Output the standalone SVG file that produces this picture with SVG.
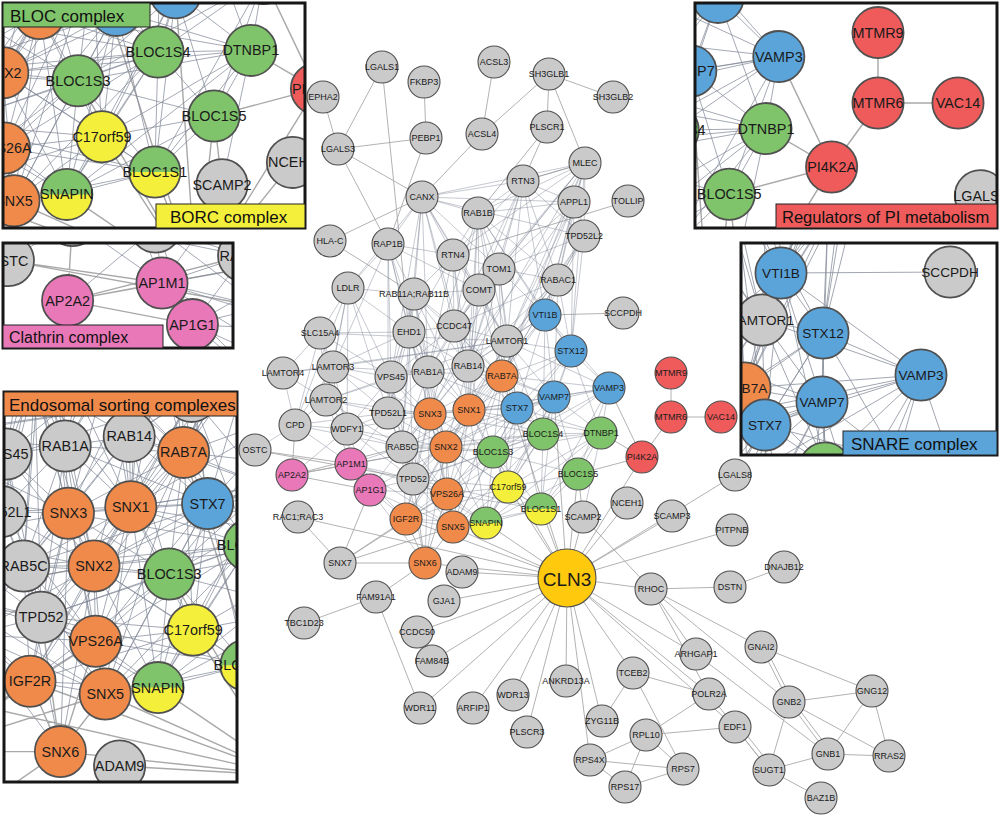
<svg xmlns="http://www.w3.org/2000/svg" xmlns:xlink="http://www.w3.org/1999/xlink" width="1000" height="817" viewBox="0 0 1000 817">
<style>
text{font-family:"Liberation Sans",Arial,sans-serif;font-size:9px;text-anchor:middle;dominant-baseline:central;fill:#1a1a1a}
circle{stroke:#505050;stroke-width:1.1}
.g circle{fill:#cacaca}
.o circle{fill:#f08a4b}
.gr circle{fill:#7fc46a}
.y circle{fill:#f4ef3a}
.b circle{fill:#5ba4da}
.r circle{fill:#ef5b5b}
.p circle{fill:#e878b8}
.h circle{fill:none}
.ep{fill:none;stroke:#a9a9a9;stroke-width:0.9}
.ec{fill:none;stroke:#7f8796;stroke-width:0.6;stroke-opacity:0.75}
.es{fill:none;stroke:#8a909c;stroke-width:1;stroke-opacity:0.8}
.sn circle{stroke-width:1.7}
.sn text{font-size:13.6px}
.frame{fill:none;stroke:#161616;stroke-width:3}
.lab{stroke:#222;stroke-width:1}
.lt{font-size:17px;text-anchor:start;fill:#111}
</style>
<defs>
<clipPath id="cBloc"><rect x="3" y="3" width="302" height="225"/></clipPath>
<clipPath id="cClat"><rect x="3" y="243" width="230" height="105"/></clipPath>
<clipPath id="cEndo"><rect x="4" y="392" width="233" height="390"/></clipPath>
<clipPath id="cPi"><rect x="695" y="3" width="302" height="225"/></clipPath>
<clipPath id="cSnare"><rect x="741" y="243" width="256" height="212"/></clipPath>
</defs>
<rect width="1000" height="817" fill="#fff"/>
<g id="network">
<g id="connectors">
<path class="ep" d="M382 67L338 149M382 67L409 332M323 97L338 149M338 149L426 138M338 149L422 197M338 149L388 244M424 82L426 138M426 138L388 244M494 62L482 134M482 134L422 197M482 134L549 74M549 74L613 97M549 74L547 127M549 74L585 163M547 127L523 181M547 127L478 213M585 163L523 181M628 201L453 255M422 197L330 241M330 241L414 294M545 315L623 313M671 373L671 417M671 417L721 417M671 417L642 457M642 457L609 388M642 457L601 433M642 457L578 474M642 457L567 578M627 503L567 578M583 517L567 578M583 517L578 474M583 517L651 589M672 516L567 578M735 475L567 578M732 530L567 578M651 589L567 578M651 589L730 587M730 587L784 567M651 589L761 647M651 589L789 702M651 589L696 654M651 589L709 694M696 654L828 754M567 578L696 654M567 578L709 694M567 578L735 727M567 578L633 673M567 578L602 721M567 578L590 760M567 578L566 681M567 578L527 732M567 578L513 695M567 578L473 708M567 578L420 708M567 578L432 661M567 578L417 632M567 578L444 601M567 578L462 572M567 578L425 563M567 578L298 517M567 578L406 519M567 578L453 527M567 578L486 523M567 578L541 509M567 578L508 487M567 578L578 474M567 578L502 376M567 578L554 397M567 578L493 452M633 673L602 721M633 673L709 694M633 673L683 769M646 735L709 694M646 735L590 760M646 735L625 787M646 735L683 769M646 735L735 727M590 760L683 769M590 760L625 787M625 787L683 769M735 727L769 770M738 724L772 767M709 694L769 770M761 647L872 691M761 647L789 702M764 645L792 700M789 702L872 691M789 702L828 754M792 700L831 752M789 702L889 756M789 702L769 770M872 691L828 754M872 691L889 756M828 754L889 756M828 754L769 770M769 770L821 798M425 563L376 597M376 597L304 623M376 597L420 708M340 563L425 563M340 563L298 517M340 563L406 519M340 563L453 527M340 563L447 494M340 563L370 490M425 563L406 519M425 563L453 527M425 563L447 494M425 563L413 479M255 450L351 464M255 450L413 479M292 475L351 464M292 475L370 490M295 425L292 475M292 475L446 447M292 475L402 447"/>
<path class="ec" d="M422 197L478 213M422 197L523 181M422 197L585 163M422 197L574 202M422 197L453 255M422 197L499 269M422 197L414 294M422 197L388 244M422 197L479 290M422 197L454 326M422 197L409 332M422 197L348 288M422 197L428 372M422 197L468 366M422 197L507 341M422 197L391 377M422 197L584 236M478 213L523 181M478 213L585 163M478 213L574 202M478 213L499 269M478 213L453 255M478 213L428 372M478 213L468 366M478 213L479 290M478 213L454 326M478 213L545 315M478 213L507 341M478 213L558 280M478 213L502 376M478 213L469 410M478 213L571 351M523 181L585 163M523 181L574 202M523 181L453 255M523 181L499 269M523 181L479 290M523 181L584 236M523 181L558 280M523 181L507 341M523 181L545 315M523 181L468 366M523 181L454 326M585 163L574 202M585 163L584 236M585 163L499 269M585 163L558 280M585 163L453 255M585 163L479 290M585 163L545 315M585 163L502 376M585 163L507 341M585 163L571 351M585 163L454 326M585 163L468 366M574 202L584 236M574 202L499 269M574 202L558 280M574 202L402 447M574 202L502 376M574 202L545 315M574 202L571 351M574 202L507 341M584 236L499 269M584 236L558 280M584 236L413 479M584 236L545 315M584 236L502 376M584 236L571 351M584 236L469 410M388 244L453 255M388 244L414 294M388 244L409 332M388 244L348 288M388 244L428 372M388 244L391 377M388 244L479 290M388 244L333 367M388 244L388 413M388 244L430 414M453 255L499 269M453 255L479 290M453 255L454 326M453 255L414 294M453 255L409 332M453 255L428 372M453 255L468 366M453 255L507 341M453 255L469 410M499 269L479 290M499 269L558 280M499 269L454 326M499 269L545 315M499 269L507 341M499 269L502 376M499 269L517 408M499 269L469 410M499 269L430 414M499 269L468 366M558 280L545 315M558 280L571 351M558 280L507 341M558 280L502 376M558 280L468 366M558 280L454 326M558 280L554 397M348 288L320 333M348 288L409 332M348 288L414 294M348 288L333 367M348 288L326 400M348 288L391 377M348 288L347 429M348 288L388 413M348 288L295 425M414 294L409 332M414 294L454 326M414 294L479 290M414 294L428 372M414 294L391 377M414 294L430 414M414 294L469 410M414 294L468 366M414 294L402 447M414 294L388 413M414 294L446 447M414 294L502 376M479 290L454 326M479 290L507 341M479 290L468 366M479 290L428 372M479 290L502 376M479 290L469 410M545 315L571 351M545 315L517 408M545 315L554 397M545 315L609 388M545 315L507 341M545 315L502 376M545 315L543 434M545 315L469 410M545 315L468 366M320 333L333 367M320 333L326 400M320 333L283 373M320 333L409 332M320 333L507 341M320 333L391 377M320 333L347 429M320 333L295 425M409 332L454 326M409 332L391 377M409 332L428 372M409 332L468 366M409 332L430 414M409 332L469 410M409 332L402 447M409 332L388 413M409 332L333 367M409 332L446 447M409 332L413 479M454 326L507 341M454 326L468 366M454 326L428 372M454 326L502 376M454 326L469 410M454 326L430 414M454 326L517 408M454 326L391 377M507 341L326 400M507 341L333 367M507 341L283 373M507 341L571 351M507 341L502 376M507 341L468 366M507 341L554 397M507 341L517 408M507 341L469 410M507 341L446 447M507 341L609 388M507 341L543 434M571 351L554 397M571 351L609 388M571 351L517 408M571 351L502 376M571 351L543 434M571 351L601 433M571 351L469 410M571 351L493 452M283 373L333 367M283 373L326 400M283 373L295 425M333 367L326 400M333 367L391 377M333 367L295 425M333 367L347 429M333 367L388 413M333 367L428 372M333 367L430 414M391 377L428 372M391 377L388 413M391 377L430 414M391 377L347 429M391 377L402 447M391 377L326 400M391 377L446 447M391 377L413 479M428 372L468 366M428 372L430 414M428 372L469 410M428 372L388 413M428 372L402 447M428 372L446 447M428 372L502 376M428 372L517 408M428 372L413 479M428 372L447 494M468 366L502 376M468 366L469 410M468 366L430 414M468 366L517 408M468 366L446 447M468 366L402 447M468 366L554 397M468 366L493 452M502 376L517 408M502 376L554 397M502 376L469 410M502 376L446 447M502 376L430 414M502 376L543 434M502 376L493 452M502 376L609 388M502 376L453 527M502 376L447 494M502 376L508 487M502 376L406 519M326 400L295 425M326 400L347 429M326 400L388 413M326 400L351 464M326 400L402 447M326 400L430 414M609 388L554 397M609 388L517 408M609 388L543 434M609 388L601 433M609 388L493 452M609 388L578 474M609 388L469 410M609 388L541 509M554 397L517 408M554 397L543 434M554 397L601 433M554 397L493 452M554 397L578 474M554 397L469 410M554 397L446 447M554 397L508 487M554 397L541 509M554 397L486 523M554 397L402 447M517 408L543 434M517 408L601 433M517 408L493 452M517 408L469 410M517 408L446 447M517 408L508 487M517 408L541 509M517 408L486 523M517 408L447 494M517 408L453 527M517 408L430 414M295 425L347 429M295 425L351 464M295 425L402 447M295 425L388 413M295 425L255 450M388 413L430 414M388 413L347 429M388 413L402 447M388 413L413 479M388 413L446 447M388 413L351 464M388 413L447 494M388 413L469 410M430 414L469 410M430 414L446 447M430 414L402 447M430 414L413 479M430 414L447 494M430 414L453 527M430 414L406 519M430 414L493 452M430 414L543 434M430 414L425 563M469 410L446 447M469 410L543 434M469 410L493 452M469 410L447 494M469 410L453 527M469 410L413 479M469 410L508 487M469 410L486 523M469 410L601 433M469 410L406 519M469 410L402 447M347 429L351 464M347 429L402 447M347 429L413 479M347 429L370 490M347 429L446 447M347 429L292 475M347 429L430 414M402 447L446 447M402 447L413 479M402 447L351 464M402 447L370 490M402 447L447 494M402 447L406 519M402 447L493 452M402 447L453 527M402 447L425 563M402 447L543 434M446 447L493 452M446 447L543 434M446 447L447 494M446 447L413 479M446 447L453 527M446 447L406 519M446 447L508 487M446 447L486 523M446 447L425 563M446 447L601 433M446 447L541 509M446 447L370 490M543 434L601 433M543 434L493 452M543 434L578 474M543 434L508 487M543 434L541 509M543 434L486 523M543 434L447 494M543 434L453 527M543 434L413 479M601 433L493 452M601 433L578 474M601 433L508 487M601 433L541 509M601 433L486 523M601 433L583 517M351 464L370 490M351 464L413 479M351 464L406 519M351 464L447 494M351 464L446 447M351 464L453 527M413 479L447 494M413 479L406 519M413 479L453 527M413 479L370 490M413 479L493 452M413 479L508 487M413 479L486 523M413 479L541 509M493 452L578 474M493 452L508 487M493 452L541 509M493 452L486 523M493 452L447 494M493 452L453 527M493 452L406 519M578 474L508 487M578 474L541 509M578 474L486 523M370 490L406 519M370 490L447 494M370 490L453 527M370 490L425 563M447 494L453 527M447 494L406 519M447 494L508 487M447 494L486 523M447 494L541 509M508 487L541 509M508 487L486 523M508 487L453 527M508 487L406 519M406 519L453 527M406 519L486 523M453 527L486 523M453 527L541 509M486 523L541 509"/>
</g>
<g id="nodes">
<g id="n-LGALS1" class="g"><circle cx="382" cy="67" r="16"/><text x="382" y="67">LGALS1</text></g>
<g id="n-FKBP3" class="g"><circle cx="424" cy="82" r="16"/><text x="424" y="82">FKBP3</text></g>
<g id="n-ACSL3" class="g"><circle cx="494" cy="62" r="16"/><text x="494" y="62">ACSL3</text></g>
<g id="n-SH3GLB1" class="g"><circle cx="549" cy="74" r="16"/><text x="549" y="74">SH3GLB1</text></g>
<g id="n-SH3GLB2" class="g"><circle cx="613" cy="97" r="16"/><text x="613" y="97">SH3GLB2</text></g>
<g id="n-EPHA2" class="g"><circle cx="323" cy="97" r="16"/><text x="323" y="97">EPHA2</text></g>
<g id="n-PEBP1" class="g"><circle cx="426" cy="138" r="16"/><text x="426" y="138">PEBP1</text></g>
<g id="n-ACSL4" class="g"><circle cx="482" cy="134" r="16"/><text x="482" y="134">ACSL4</text></g>
<g id="n-PLSCR1" class="g"><circle cx="547" cy="127" r="16"/><text x="547" y="127">PLSCR1</text></g>
<g id="n-LGALS3" class="g"><circle cx="338" cy="149" r="16"/><text x="338" y="149">LGALS3</text></g>
<g id="n-MLEC" class="g"><circle cx="585" cy="163" r="16"/><text x="585" y="163">MLEC</text></g>
<g id="n-RTN3" class="g"><circle cx="523" cy="181" r="16"/><text x="523" y="181">RTN3</text></g>
<g id="n-CANX" class="g"><circle cx="422" cy="197" r="16"/><text x="422" y="197">CANX</text></g>
<g id="n-APPL1" class="g"><circle cx="574" cy="202" r="16"/><text x="574" y="202">APPL1</text></g>
<g id="n-TOLLIP" class="g"><circle cx="628" cy="201" r="16"/><text x="628" y="201">TOLLIP</text></g>
<g id="n-RAB1B" class="g"><circle cx="478" cy="213" r="16"/><text x="478" y="213">RAB1B</text></g>
<g id="n-TPD52L2" class="g"><circle cx="584" cy="236" r="16"/><text x="584" y="236">TPD52L2</text></g>
<g id="n-HLA-C" class="g"><circle cx="330" cy="241" r="16"/><text x="330" y="241">HLA-C</text></g>
<g id="n-RAP1B" class="g"><circle cx="388" cy="244" r="16"/><text x="388" y="244">RAP1B</text></g>
<g id="n-RTN4" class="g"><circle cx="453" cy="255" r="16"/><text x="453" y="255">RTN4</text></g>
<g id="n-TOM1" class="g"><circle cx="499" cy="269" r="16"/><text x="499" y="269">TOM1</text></g>
<g id="n-RABAC1" class="g"><circle cx="558" cy="280" r="16"/><text x="558" y="280">RABAC1</text></g>
<g id="n-LDLR" class="g"><circle cx="348" cy="288" r="16"/><text x="348" y="288">LDLR</text></g>
<g id="n-RAB11A_RAB11B" class="g"><circle cx="414" cy="294" r="16"/><text x="414" y="294">RAB11A;RAB11B</text></g>
<g id="n-COMT" class="g"><circle cx="479" cy="290" r="16"/><text x="479" y="290">COMT</text></g>
<g id="n-VTI1B" class="b"><circle cx="545" cy="315" r="16"/><text x="545" y="315">VTI1B</text></g>
<g id="n-SCCPDH" class="g"><circle cx="623" cy="313" r="16"/><text x="623" y="313">SCCPDH</text></g>
<g id="n-SLC15A4" class="g"><circle cx="320" cy="333" r="16"/><text x="320" y="333">SLC15A4</text></g>
<g id="n-EHD1" class="g"><circle cx="409" cy="332" r="16"/><text x="409" y="332">EHD1</text></g>
<g id="n-CCDC47" class="g"><circle cx="454" cy="326" r="16"/><text x="454" y="326">CCDC47</text></g>
<g id="n-LAMTOR1" class="g"><circle cx="507" cy="341" r="16"/><text x="507" y="341">LAMTOR1</text></g>
<g id="n-STX12" class="b"><circle cx="571" cy="351" r="16"/><text x="571" y="351">STX12</text></g>
<g id="n-LAMTOR4" class="g"><circle cx="283" cy="373" r="16"/><text x="283" y="373">LAMTOR4</text></g>
<g id="n-LAMTOR3" class="g"><circle cx="333" cy="367" r="16"/><text x="333" y="367">LAMTOR3</text></g>
<g id="n-VPS45" class="g"><circle cx="391" cy="377" r="16"/><text x="391" y="377">VPS45</text></g>
<g id="n-RAB1A" class="g"><circle cx="428" cy="372" r="16"/><text x="428" y="372">RAB1A</text></g>
<g id="n-RAB14" class="g"><circle cx="468" cy="366" r="16"/><text x="468" y="366">RAB14</text></g>
<g id="n-RAB7A" class="o"><circle cx="502" cy="376" r="16"/><text x="502" y="376">RAB7A</text></g>
<g id="n-MTMR9" class="r"><circle cx="671" cy="373" r="16"/><text x="671" y="373">MTMR9</text></g>
<g id="n-LAMTOR2" class="g"><circle cx="326" cy="400" r="16"/><text x="326" y="400">LAMTOR2</text></g>
<g id="n-VAMP3" class="b"><circle cx="609" cy="388" r="16"/><text x="609" y="388">VAMP3</text></g>
<g id="n-VAMP7" class="b"><circle cx="554" cy="397" r="16"/><text x="554" y="397">VAMP7</text></g>
<g id="n-STX7" class="b"><circle cx="517" cy="408" r="16"/><text x="517" y="408">STX7</text></g>
<g id="n-MTMR6" class="r"><circle cx="671" cy="417" r="16"/><text x="671" y="417">MTMR6</text></g>
<g id="n-VAC14" class="r"><circle cx="721" cy="417" r="16"/><text x="721" y="417">VAC14</text></g>
<g id="n-CPD" class="g"><circle cx="295" cy="425" r="16"/><text x="295" y="425">CPD</text></g>
<g id="n-TPD52L1" class="g"><circle cx="388" cy="413" r="16"/><text x="388" y="413">TPD52L1</text></g>
<g id="n-SNX3" class="o"><circle cx="430" cy="414" r="16"/><text x="430" y="414">SNX3</text></g>
<g id="n-SNX1" class="o"><circle cx="469" cy="410" r="16"/><text x="469" y="410">SNX1</text></g>
<g id="n-WDFY1" class="g"><circle cx="347" cy="429" r="16"/><text x="347" y="429">WDFY1</text></g>
<g id="n-RAB5C" class="g"><circle cx="402" cy="447" r="16"/><text x="402" y="447">RAB5C</text></g>
<g id="n-SNX2" class="o"><circle cx="446" cy="447" r="16"/><text x="446" y="447">SNX2</text></g>
<g id="n-BLOC1S4" class="gr"><circle cx="543" cy="434" r="16"/><text x="543" y="434">BLOC1S4</text></g>
<g id="n-DTNBP1" class="gr"><circle cx="601" cy="433" r="16"/><text x="601" y="433">DTNBP1</text></g>
<g id="n-OSTC" class="g"><circle cx="255" cy="450" r="16"/><text x="255" y="450">OSTC</text></g>
<g id="n-AP2A2" class="p"><circle cx="292" cy="475" r="16"/><text x="292" y="475">AP2A2</text></g>
<g id="n-AP1M1" class="p"><circle cx="351" cy="464" r="16"/><text x="351" y="464">AP1M1</text></g>
<g id="n-TPD52" class="g"><circle cx="413" cy="479" r="16"/><text x="413" y="479">TPD52</text></g>
<g id="n-BLOC1S3" class="gr"><circle cx="493" cy="452" r="16"/><text x="493" y="452">BLOC1S3</text></g>
<g id="n-PI4K2A" class="r"><circle cx="642" cy="457" r="16"/><text x="642" y="457">PI4K2A</text></g>
<g id="n-BLOC1S5" class="gr"><circle cx="578" cy="474" r="16"/><text x="578" y="474">BLOC1S5</text></g>
<g id="n-AP1G1" class="p"><circle cx="370" cy="490" r="16"/><text x="370" y="490">AP1G1</text></g>
<g id="n-VPS26A" class="o"><circle cx="447" cy="494" r="16"/><text x="447" y="494">VPS26A</text></g>
<g id="n-C17orf59" class="y"><circle cx="508" cy="487" r="16"/><text x="508" y="487">C17orf59</text></g>
<g id="n-NCEH1" class="g"><circle cx="627" cy="503" r="16"/><text x="627" y="503">NCEH1</text></g>
<g id="n-LGALS8" class="g"><circle cx="735" cy="475" r="16"/><text x="735" y="475">LGALS8</text></g>
<g id="n-RAC1_RAC3" class="g"><circle cx="298" cy="517" r="16"/><text x="298" y="517">RAC1;RAC3</text></g>
<g id="n-IGF2R" class="o"><circle cx="406" cy="519" r="16"/><text x="406" y="519">IGF2R</text></g>
<g id="n-SNX5" class="o"><circle cx="453" cy="527" r="16"/><text x="453" y="527">SNX5</text></g>
<g id="n-SNAPIN" class="h"><circle cx="486" cy="523" r="16" style="fill:#f4ef3a;stroke:none"/><path d="M470 523A16 16 0 0 1 502 523Z" fill="#7fc46a"/><circle cx="486" cy="523" r="16"/><text x="486" y="523">SNAPIN</text></g>
<g id="n-BLOC1S1" class="h"><circle cx="541" cy="509" r="16" style="fill:#f4ef3a;stroke:none"/><path d="M525 509A16 16 0 0 1 557 509Z" fill="#7fc46a"/><circle cx="541" cy="509" r="16"/><text x="541" y="509">BLOC1S1</text></g>
<g id="n-SCAMP2" class="g"><circle cx="583" cy="517" r="16"/><text x="583" y="517">SCAMP2</text></g>
<g id="n-SCAMP3" class="g"><circle cx="672" cy="516" r="16"/><text x="672" y="516">SCAMP3</text></g>
<g id="n-PITPNB" class="g"><circle cx="732" cy="530" r="16"/><text x="732" y="530">PITPNB</text></g>
<g id="n-DNAJB12" class="g"><circle cx="784" cy="567" r="16"/><text x="784" y="567">DNAJB12</text></g>
<g id="n-SNX7" class="g"><circle cx="340" cy="563" r="16"/><text x="340" y="563">SNX7</text></g>
<g id="n-SNX6" class="o"><circle cx="425" cy="563" r="16"/><text x="425" y="563">SNX6</text></g>
<g id="n-ADAM9" class="g"><circle cx="462" cy="572" r="16"/><text x="462" y="572">ADAM9</text></g>
<g id="n-CLN3"><circle cx="567" cy="578" r="29" style="fill:#ffc90e"/><text x="567" y="579" style="font-size:19px">CLN3</text></g>
<g id="n-RHOC" class="g"><circle cx="651" cy="589" r="16"/><text x="651" y="589">RHOC</text></g>
<g id="n-DSTN" class="g"><circle cx="730" cy="587" r="16"/><text x="730" y="587">DSTN</text></g>
<g id="n-FAM91A1" class="g"><circle cx="376" cy="597" r="16"/><text x="376" y="597">FAM91A1</text></g>
<g id="n-GJA1" class="g"><circle cx="444" cy="601" r="16"/><text x="444" y="601">GJA1</text></g>
<g id="n-TBC1D23" class="g"><circle cx="304" cy="623" r="16"/><text x="304" y="623">TBC1D23</text></g>
<g id="n-CCDC50" class="g"><circle cx="417" cy="632" r="16"/><text x="417" y="632">CCDC50</text></g>
<g id="n-ARHGAP1" class="g"><circle cx="696" cy="654" r="16"/><text x="696" y="654">ARHGAP1</text></g>
<g id="n-GNAI2" class="g"><circle cx="761" cy="647" r="16"/><text x="761" y="647">GNAI2</text></g>
<g id="n-FAM84B" class="g"><circle cx="432" cy="661" r="16"/><text x="432" y="661">FAM84B</text></g>
<g id="n-TCEB2" class="g"><circle cx="633" cy="673" r="16"/><text x="633" y="673">TCEB2</text></g>
<g id="n-ANKRD13A" class="g"><circle cx="566" cy="681" r="16"/><text x="566" y="681">ANKRD13A</text></g>
<g id="n-GNG12" class="g"><circle cx="872" cy="691" r="16"/><text x="872" y="691">GNG12</text></g>
<g id="n-POLR2A" class="g"><circle cx="709" cy="694" r="16"/><text x="709" y="694">POLR2A</text></g>
<g id="n-GNB2" class="g"><circle cx="789" cy="702" r="16"/><text x="789" y="702">GNB2</text></g>
<g id="n-WDR13" class="g"><circle cx="513" cy="695" r="16"/><text x="513" y="695">WDR13</text></g>
<g id="n-WDR11" class="g"><circle cx="420" cy="708" r="16"/><text x="420" y="708">WDR11</text></g>
<g id="n-ARFIP1" class="g"><circle cx="473" cy="708" r="16"/><text x="473" y="708">ARFIP1</text></g>
<g id="n-ZYG11B" class="g"><circle cx="602" cy="721" r="16"/><text x="602" y="721">ZYG11B</text></g>
<g id="n-EDF1" class="g"><circle cx="735" cy="727" r="16"/><text x="735" y="727">EDF1</text></g>
<g id="n-RPL10" class="g"><circle cx="646" cy="735" r="16"/><text x="646" y="735">RPL10</text></g>
<g id="n-PLSCR3" class="g"><circle cx="527" cy="732" r="16"/><text x="527" y="732">PLSCR3</text></g>
<g id="n-GNB1" class="g"><circle cx="828" cy="754" r="16"/><text x="828" y="754">GNB1</text></g>
<g id="n-RRAS2" class="g"><circle cx="889" cy="756" r="16"/><text x="889" y="756">RRAS2</text></g>
<g id="n-RPS4X" class="g"><circle cx="590" cy="760" r="16"/><text x="590" y="760">RPS4X</text></g>
<g id="n-RPS7" class="g"><circle cx="683" cy="769" r="16"/><text x="683" y="769">RPS7</text></g>
<g id="n-SUGT1" class="g"><circle cx="769" cy="770" r="16"/><text x="769" y="770">SUGT1</text></g>
<g id="n-RPS17" class="g"><circle cx="625" cy="787" r="16"/><text x="625" y="787">RPS17</text></g>
<g id="n-BAZ1B" class="g"><circle cx="821" cy="798" r="16"/><text x="821" y="798">BAZ1B</text></g>
</g>
</g>
<g id="inset-bloc">
<rect x="3" y="3" width="302" height="225" fill="#fff"/>
<g clip-path="url(#cBloc)"><use xlink:href="#network" href="#network" transform="translate(-710.8 -642.4) scale(1.6)"/></g>
<rect class="frame" x="3" y="3" width="302" height="225"/>
<rect class="lab" x="3" y="3" width="147" height="24" fill="#7fc46a"/>
<text class="lt" x="10" y="16">BLOC complex</text>
<rect class="lab" x="156" y="204" width="149" height="24" fill="#f4ef3a"/>
<text class="lt" x="170" y="217">BORC complex</text>
</g>
<g id="inset-clathrin">
<rect x="3" y="243" width="230" height="105" fill="#fff"/>
<g clip-path="url(#cClat)"><use xlink:href="#network" href="#network" transform="translate(-399.6 -459.4) scale(1.6)"/></g>
<rect class="frame" x="3" y="243" width="230" height="105"/>
<rect class="lab" x="3" y="325" width="160" height="23" fill="#e878b8"/>
<text class="lt" x="9" y="337" style="font-size:16px">Clathrin complex</text>
</g>
<g id="inset-endosomal">
<rect x="4" y="392" width="233" height="390" fill="#fff"/>
<g clip-path="url(#cEndo)"><use xlink:href="#network" href="#network" transform="translate(-619.6 -149.2) scale(1.6)"/></g>
<rect class="frame" x="4" y="392" width="233" height="390"/>
<rect class="lab" x="4" y="392" width="233" height="24" fill="#f08a4b"/>
<text class="lt" x="9" y="405">Endosomal sorting complexes</text>
</g>
<g id="inset-pi">
<rect x="695" y="3" width="302" height="225" fill="#fff"/>
<g clip-path="url(#cPi)"><use xlink:href="#network" href="#network" transform="translate(-195.6 -564.2) scale(1.6)"/></g>
<rect class="frame" x="695" y="3" width="302" height="225"/>
<rect class="lab" x="776" y="204" width="221" height="24" fill="#ef5b5b"/>
<text class="lt" x="782" y="217" style="font-size:16.5px">Regulators of PI metabolism</text>
</g>
<g id="inset-snare">
<rect x="741" y="243" width="256" height="212" fill="#fff"/>
<g clip-path="url(#cSnare)">
<path class="es" d="M781 273L700 108M781 273L772 56M781 273L872 28M781 273L854 90M781 273L870 144M781 273L734 197M781 273L828 215M781 273L950 272M781 273L823 333M781 273L765 425M781 273L822 402M781 273L921 375M781 273L762 320M781 273L745 388M781 273L825 465M781 273L686 423M781 273L684 352M823 333L822 402M823 333L921 375M823 333L765 425M823 333L745 388M823 333L825 465M823 333L897 460M823 333L686 423M823 333L724 490M823 333L762 320M823 333L700 108M823 333L872 28M823 333L854 90M823 333L870 144M823 333L828 215M921 375L822 402M921 375L765 425M921 375L825 465M921 375L897 460M921 375L724 490M921 375L860 525M921 375L686 423M921 375L762 320M921 375L745 388M921 375L963 498M921 375L801 581M822 402L765 425M822 402L825 465M822 402L897 460M822 402L724 490M822 402L860 525M822 402L686 423M822 402L649 482M822 402L748 546M822 402L801 581M822 402L713 604M822 402L579 482M822 402L762 320M822 402L745 388M822 402L828 215M822 402L684 352M822 402L843 692M765 425L825 465M765 425L897 460M765 425L724 490M765 425L686 423M765 425L649 482M765 425L748 546M765 425L801 581M765 425L713 604M765 425L651 557M765 425L660 610M765 425L624 429M765 425L745 388M765 425L762 320M765 425L734 197M765 425L662 288M765 425L620 362M765 425L684 352M762 320L457 407M762 320L468 354M762 320L388 364M762 320L745 388M762 320L684 352M762 320L649 482M762 320L686 423M762 320L662 288M762 320L702 231M762 320L700 108M762 320L772 56M762 320L872 28M762 320L854 90M762 320L870 144M762 320L734 197M762 320L828 215M762 320L660 175M762 320L448 300M762 320L825 465M745 388L686 423M745 388L649 482M745 388L624 429M745 388L724 490M745 388L651 557M745 388L748 546M745 388L585 597M745 388L660 610M745 388L684 352M745 388L620 362M745 388L702 231M745 388L662 288M745 388L872 28M745 388L854 90M745 388L870 144M745 388L734 197M745 388L828 215M745 388L700 108M745 388L598 237M745 388L843 692M745 388L825 465M825 465L897 460M825 465L724 490M825 465L860 525"/>
<g class="sn gr"><circle cx="825" cy="468" r="25.6"/></g>
<g class="sn g"><circle cx="762" cy="320" r="25.6"/><text x="762" y="320">LAMTOR1</text></g>
<g class="sn o"><circle cx="745" cy="388" r="25.6"/><text x="745" y="388">RAB7A</text></g>
<g class="sn b"><circle cx="781" cy="273" r="25.6"/><text x="781" y="273">VTI1B</text></g>
<g class="sn g"><circle cx="950" cy="272" r="25.6"/><text x="950" y="272">SCCPDH</text></g>
<g class="sn b"><circle cx="823" cy="333" r="25.6"/><text x="823" y="333">STX12</text></g>
<g class="sn b"><circle cx="921" cy="375" r="25.6"/><text x="921" y="375">VAMP3</text></g>
<g class="sn b"><circle cx="822" cy="402" r="25.6"/><text x="822" y="402">VAMP7</text></g>
<g class="sn b"><circle cx="765" cy="425" r="25.6"/><text x="765" y="425">STX7</text></g>
</g>
<rect class="frame" x="741" y="243" width="256" height="212"/>
<rect class="lab" x="843" y="431" width="154" height="24" fill="#5ba4da"/>
<text class="lt" x="851" y="444">SNARE complex</text>
</g>
</svg>
